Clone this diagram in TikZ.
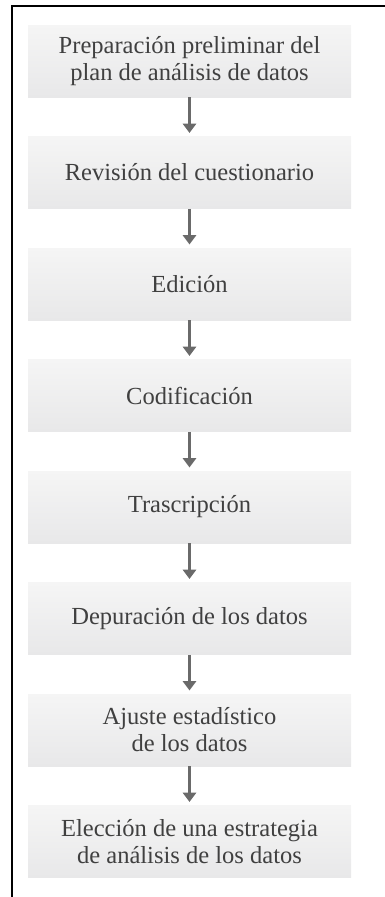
\documentclass[tikz,border=0pt]{standalone}
\usepackage{fontspec}
\setmainfont{Liberation Serif}
\usetikzlibrary{arrows.meta}
\definecolor{boxtop}{HTML}{F5F5F5}
\definecolor{boxbot}{HTML}{E8E8E9}
\definecolor{txt}{HTML}{404040}
\definecolor{arr}{HTML}{6A6A6A}
\begin{document}
\begin{tikzpicture}[x=0.75pt,y=-0.75pt,
  stepbox/.style={minimum width=242.25pt, minimum height=54pt, inner sep=0pt,
    top color=boxtop, bottom color=boxbot, draw=none, align=center,
    font=\fontsize{18.4}{20.3}\selectfont, text=txt},
  flow/.style={draw=arr, line width=2.2pt, -{Triangle[width=10pt,length=7pt]}, shorten >=2.5pt},
  frame/.style={line width=1.5pt, line join=miter}]
\useasboundingbox (0,0) rectangle (385,897);
\coordinate (ftr) at (385,6);
\coordinate (ftl) at (12,6);
\coordinate (fbl) at (12,897);
\draw[frame] (ftr) -- (ftl) -- (fbl);
\node[stepbox] (s1) at (189.5,61) {Preparación preliminar del\\plan de análisis de datos};
\node[stepbox] (s2) at (189.5,172.5) {Revisión del cuestionario};
\node[stepbox] (s3) at (189.5,284) {Edición};
\node[stepbox] (s4) at (189.5,395.5) {Codificación};
\node[stepbox] (s5) at (189.5,507) {Trascripción};
\node[stepbox] (s6) at (189.5,618.5) {Depuración de los datos};
\node[stepbox] (s7) at (189.5,730) {Ajuste estadístico\\de los datos};
\node[stepbox] (s8) at (189.5,841.5) {Elección de una estrategia\\de análisis de los datos};
\foreach \a/\b in {s1/s2,s2/s3,s3/s4,s4/s5,s5/s6,s6/s7,s7/s8}
  \draw[flow] (\a.south) -- (\b.north);
\end{tikzpicture}
\end{document}
